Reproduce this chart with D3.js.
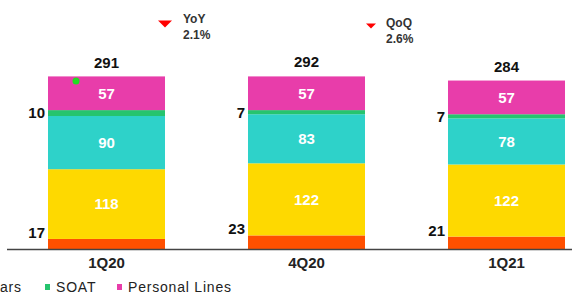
<!DOCTYPE html>
<html>
<head>
<meta charset="utf-8">
<script src="https://cdn.jsdelivr.net/npm/d3@7"></script>
<style>
  body { margin: 0; background: #fff; }
  svg { display: block; font-family: "Liberation Sans", Arial, sans-serif; }
</style>
</head>
<body>
<div id="chart"></div>
<script>
var quarters = ["1Q20", "4Q20", "1Q21"];
var seriesNames = ["Other", "Cars", "SOAT", "Personal Lines"];
var other = [17, 23, 21];
var cars = [118, 122, 122];
var mid = [90, 83, 78]; // teal segment between cars and SOAT
var soat = [10, 7, 7];
var personal = [57, 57, 57];
var totals = [291, 292, 284];
var changes = [{ label: "YoY", value: "2.1%" }, { label: "QoQ", value: "2.6%" }];

var configuration = {
    width: 572,
    height: 295,
    baseline: 249
};

var colors = {
    other: "#ff5000",
    cars: "#fed900",
    mid: "#2ed2c9",
    soat: "#26c46e",
    personal: "#e83daa"
};

var svg = d3.select("#chart").append("svg")
    .attr("width", configuration.width)
    .attr("height", configuration.height);

var x = d3.scaleBand()
    .domain(quarters)
    .range([48, 565])
    .paddingInner(0.415)
    .paddingOuter(0);

var y = d3.scaleLinear()
    .domain([0, 291])
    .range([configuration.baseline, 77]);

var keys = ["other", "cars", "mid", "soat", "personal"];
var rows = quarters.map(function (q, i) {
    return { q: q, other: other[i], cars: cars[i], mid: mid[i], soat: soat[i], personal: personal[i] };
});

var stack = d3.stack().keys(keys)(rows);

svg.append("g").selectAll("g")
    .data(stack)
    .join("g")
    .attr("fill", function (d) { return colors[d.key]; })
    .selectAll("rect")
    .data(function (d) { return d; })
    .join("rect")
    .attr("x", function (d) { return x(d.data.q); })
    .attr("width", x.bandwidth())
    .attr("y", function (d) { return y(d[1]); })
    .attr("height", function (d) { return y(d[0]) - y(d[1]); });

// white labels inside the big segments
["cars", "mid", "personal"].forEach(function (k) {
    var layer = stack[keys.indexOf(k)];
    svg.append("g").selectAll("text")
        .data(layer)
        .join("text")
        .attr("x", function (d) { return x(d.data.q) + x.bandwidth() / 2; })
        .attr("y", function (d) { return (y(d[0]) + y(d[1])) / 2; })
        .attr("dy", "0.36em")
        .attr("text-anchor", "middle")
        .attr("fill", "#fff")
        .attr("font-size", "15px")
        .attr("font-weight", "bold")
        .text(function (d) { return d.data[k]; });
});

// small values to the left of the bar
var leftLabels = svg.append("g")
    .attr("font-size", "15px")
    .attr("font-weight", "bold")
    .attr("fill", "#111")
    .attr("text-anchor", "end");

leftLabels.selectAll(".other-lbl")
    .data(stack[0])
    .join("text")
    .attr("class", "other-lbl")
    .attr("x", function (d) { return x(d.data.q) - 3; })
    .attr("y", function (d) { return y(d[1]) - 1; })
    .text(function (d) { return d.data.other; });

leftLabels.selectAll(".soat-lbl")
    .data(stack[3])
    .join("text")
    .attr("class", "soat-lbl")
    .attr("x", function (d) { return x(d.data.q) - 3; })
    .attr("y", function (d) { return (y(d[0]) + y(d[1])) / 2; })
    .attr("dy", "0.36em")
    .text(function (d) { return d.data.soat; });

// totals on top
svg.append("g").selectAll("text")
    .data(quarters)
    .join("text")
    .attr("x", function (q) { return x(q) + x.bandwidth() / 2; })
    .attr("y", function (q, i) { return y(totals[i]) - 9; })
    .attr("text-anchor", "middle")
    .attr("font-size", "15px")
    .attr("font-weight", "bold")
    .attr("fill", "#111")
    .text(function (q, i) { return totals[i]; });

// baseline
svg.append("line")
    .attr("x1", 7).attr("x2", 572)
    .attr("y1", configuration.baseline + 0.5).attr("y2", configuration.baseline + 0.5)
    .attr("stroke", "#444")
    .attr("stroke-width", 1.5);

// category labels
svg.append("g").selectAll("text")
    .data(quarters)
    .join("text")
    .attr("x", function (q) { return x(q) + x.bandwidth() / 2; })
    .attr("y", 268)
    .attr("text-anchor", "middle")
    .attr("font-size", "15px")
    .attr("font-weight", "bold")
    .attr("fill", "#222")
    .text(function (q) { return q; });

// YoY / QoQ notes
var notePos = [{ tx: 165, ty: 24, s: 7, lx: 183, ly: 23 }, { tx: 371, ty: 26, s: 5, lx: 386, ly: 27 }];
var notes = svg.append("g").selectAll("g")
    .data(changes)
    .join("g");

notes.append("path")
    .attr("d", function (d, i) {
        var p = notePos[i];
        return "M" + (p.tx - p.s) + "," + (p.ty - p.s * 0.5) + "L" + (p.tx + p.s) + "," + (p.ty - p.s * 0.5) + "L" + p.tx + "," + (p.ty + p.s * 0.5) + "Z";
    })
    .attr("fill", "#f00");

notes.append("text")
    .attr("x", function (d, i) { return notePos[i].lx; })
    .attr("y", function (d, i) { return notePos[i].ly; })
    .attr("font-size", "12px")
    .attr("font-weight", "bold")
    .attr("fill", "#333")
    .text(function (d) { return d.label; });

notes.append("text")
    .attr("x", function (d, i) { return notePos[i].lx; })
    .attr("y", function (d, i) { return notePos[i].ly + 16; })
    .attr("font-size", "12px")
    .attr("font-weight", "bold")
    .attr("fill", "#333")
    .text(function (d) { return d.value; });

// stray green marker seen on the first bar
svg.append("circle")
    .attr("cx", 76).attr("cy", 81).attr("r", 3.5)
    .attr("fill", "#22dd22");

// legend, first items run off the left edge
var legendX = [-92, -22, 45, 117];
var legendColors = [colors.other, colors.cars, colors.soat, colors.personal];
var legend = svg.append("g").selectAll("g")
    .data(seriesNames)
    .join("g")
    .attr("transform", function (d, i) { return "translate(" + legendX[i] + ",287)"; });

legend.append("rect")
    .attr("y", -3).attr("width", 5).attr("height", 6)
    .attr("fill", function (d, i) { return legendColors[i]; });

legend.append("text")
    .attr("x", 11)
    .attr("y", 0)
    .attr("dy", "0.35em")
    .attr("font-size", "14px")
    .attr("fill", "#222")
    .attr("letter-spacing", "0.8px")
    .text(function (d) { return d; });
</script>
</body>
</html>
